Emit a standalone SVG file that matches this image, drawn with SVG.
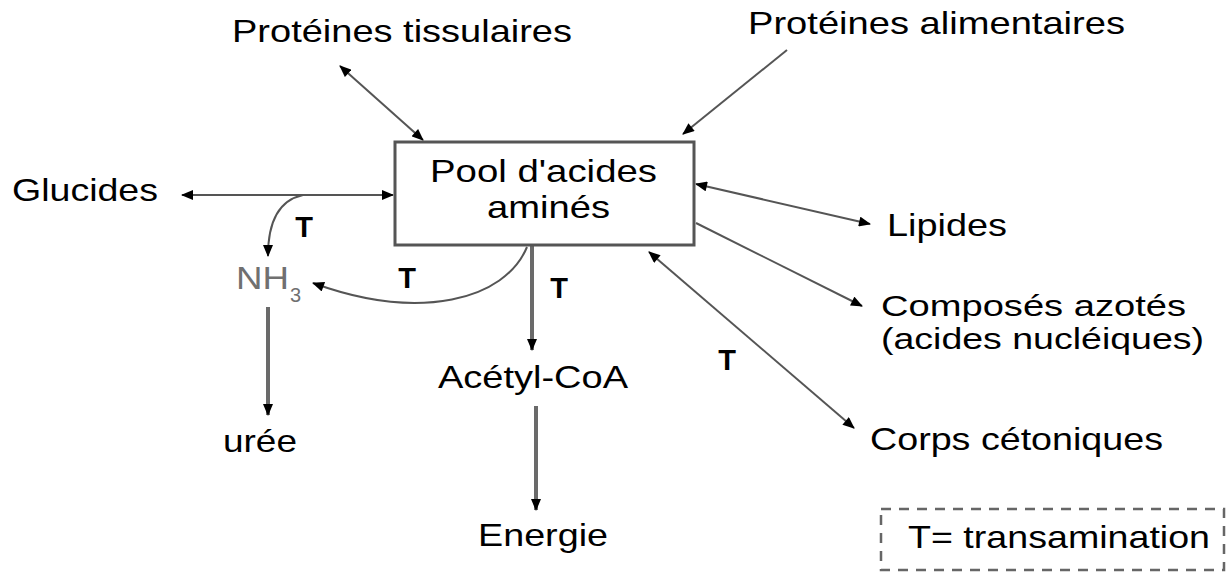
<svg xmlns="http://www.w3.org/2000/svg" width="1226" height="580" viewBox="0 0 1226 580">
<style>
.t{font-family:"Liberation Sans",Arial,sans-serif;font-size:32px;fill:#000}
.ts{font-family:"Liberation Sans",Arial,sans-serif;font-size:30px;fill:#000}
.tb{font-family:"Liberation Sans",Arial,sans-serif;font-size:29px;font-weight:bold;fill:#000}
.ln{fill:none;stroke:#555;stroke-width:2}
.lv{fill:none;stroke:#6a6a6a;stroke-width:4}
</style>
<defs>
<marker id="ah" viewBox="0 0 12 10" refX="11" refY="5" markerWidth="13" markerHeight="10" markerUnits="userSpaceOnUse" orient="auto-start-reverse">
<path d="M0,0 L12,5 L0,10 Z" fill="#000"/>
</marker>
</defs>
<rect width="1226" height="580" fill="#fff"/>
<g id="connectors">
<line class="ln" x1="340" y1="66" x2="423" y2="140" marker-start="url(#ah)" marker-end="url(#ah)"/>
<line class="ln" x1="787" y1="50" x2="683" y2="134" marker-end="url(#ah)"/>
<line class="ln" x1="182" y1="195" x2="393" y2="195" marker-start="url(#ah)" marker-end="url(#ah)"/>
<path class="ln" d="M303,195 C280,200 268,220 268,256" marker-end="url(#ah)"/>
<path class="ln" d="M527,247 C505,300 420,322 313,283" marker-end="url(#ah)"/>
<line class="lv" x1="532" y1="246" x2="532" y2="350" marker-end="url(#ah)"/>
<line class="lv" x1="268" y1="307" x2="268" y2="415" marker-end="url(#ah)"/>
<line class="lv" x1="536" y1="406" x2="536" y2="510" marker-end="url(#ah)"/>
<line class="ln" x1="696" y1="184" x2="870" y2="224" marker-start="url(#ah)" marker-end="url(#ah)"/>
<line class="ln" x1="696" y1="223" x2="862" y2="306" marker-end="url(#ah)"/>
<line class="ln" x1="649" y1="252" x2="854" y2="428" marker-start="url(#ah)" marker-end="url(#ah)"/>
</g>
<g id="pool">
<rect x="395" y="142" width="299" height="103" fill="#fff" stroke="#555" stroke-width="3"/>
<text class="t" x="430" y="182" textLength="227" lengthAdjust="spacingAndGlyphs">Pool d'acides</text>
<text class="t" x="487" y="218" textLength="123" lengthAdjust="spacingAndGlyphs">aminés</text>
</g>
<g id="proteines-tissulaires"><text class="t" x="232" y="42" textLength="340" lengthAdjust="spacingAndGlyphs">Protéines tissulaires</text></g>
<g id="proteines-alimentaires"><text class="t" x="748" y="34" textLength="377" lengthAdjust="spacingAndGlyphs">Protéines alimentaires</text></g>
<g id="glucides"><text class="t" x="12" y="201" textLength="146" lengthAdjust="spacingAndGlyphs">Glucides</text></g>
<g id="lipides"><text class="t" x="887" y="236" textLength="120" lengthAdjust="spacingAndGlyphs">Lipides</text></g>
<g id="composes">
<text class="ts" x="881" y="316" textLength="305" lengthAdjust="spacingAndGlyphs">Composés azotés</text>
<text class="ts" x="881" y="349" textLength="323" lengthAdjust="spacingAndGlyphs">(acides nucléiques)</text>
</g>
<g id="corps"><text class="t" x="870" y="450" textLength="293" lengthAdjust="spacingAndGlyphs">Corps cétoniques</text></g>
<g id="nh3">
<text x="236" y="289" textLength="53" lengthAdjust="spacingAndGlyphs" style="font-family:'Liberation Sans',Arial,sans-serif;font-size:32px;fill:#707070">NH</text>
<text x="290" y="302" style="font-family:'Liberation Sans',Arial,sans-serif;font-size:20px;fill:#707070">3</text>
</g>
<g id="uree"><text class="t" x="223" y="452" textLength="74" lengthAdjust="spacingAndGlyphs">urée</text></g>
<g id="acetyl"><text class="t" x="438" y="388" textLength="190" lengthAdjust="spacingAndGlyphs">Acétyl-CoA</text></g>
<g id="energie"><text class="t" x="478" y="546" textLength="130" lengthAdjust="spacingAndGlyphs">Energie</text></g>
<g id="labels">
<text class="tb" x="304" y="237" text-anchor="middle">T</text>
<text class="tb" x="407" y="288" text-anchor="middle">T</text>
<text class="tb" x="559" y="298" text-anchor="middle">T</text>
<text class="tb" x="727" y="370" text-anchor="middle">T</text>
</g>
<g id="legend">
<rect x="881" y="509" width="343" height="61" fill="none" stroke="#666" stroke-width="2.5" stroke-dasharray="10,8"/>
<text class="t" x="908" y="548" textLength="302" lengthAdjust="spacingAndGlyphs">T= transamination</text>
</g>
</svg>
